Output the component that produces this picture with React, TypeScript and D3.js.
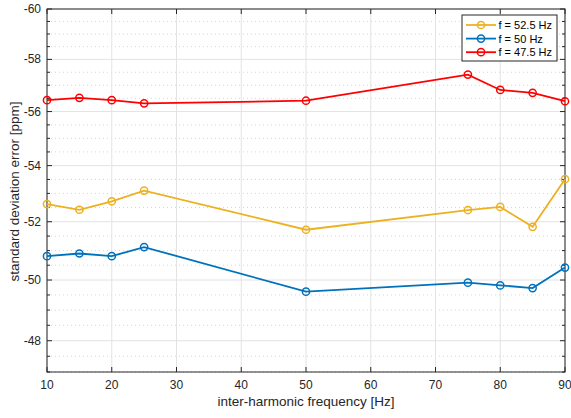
import React from 'react';
import * as d3 from 'd3';

const freqs = [10, 15, 20, 25, 50, 75, 80, 85, 90];
const s525 = [52.62, 52.42, 52.72, 53.1, 51.72, 52.41, 52.52, 51.82, 53.51];
const s50 = [50.81, 50.9, 50.81, 51.12, 49.61, 49.91, 49.82, 49.73, 50.42];
const s475 = [56.43, 56.52, 56.43, 56.31, 56.41, 57.41, 56.82, 56.71, 56.39];
const seriesNames = ['f = 52.5 Hz', 'f = 50 Hz', 'f = 47.5 Hz'];
const seriesColors = ['#EDB120', '#0072BD', '#FF0000'];
const xTicks = [10, 20, 30, 40, 50, 60, 70, 80, 90];
const yTicks = [60, 58, 56, 54, 52, 50, 48];

const W = 571;
const H = 418;
const font = 'Liberation Sans, Arial, Helvetica, sans-serif';

export default function App() {
  const x = d3.scaleLinear().domain([10, 90]).range([47, 565]);
  const y = d3.scaleLog().domain([47, 60]).range([372, 9]);
  const [x0, x1] = x.range();
  const [y0, y1] = y.range();

  const minor = d3.range(47, 60.01, 0.5).filter(v => !yTicks.includes(v));
  const series = [s525, s50, s475].map((values, i) => ({ name: seriesNames[i], color: seriesColors[i], values }));

  const line = d3.line<number>().x((_, i) => x(freqs[i])).y(v => y(v));

  return (
    <svg width={W} height={H} style={{ position: 'absolute', left: 0, top: 0, background: '#fff' }} fontFamily={font}>
      {/* grid */}
      {minor.map(v => (
        <line key={'mg' + v} x1={x0} x2={x1} y1={y(v)} y2={y(v)} stroke="#b8b8b8" strokeWidth={0.6} strokeDasharray="1,3" />
      ))}
      {xTicks.map(t => (
        <line key={'gx' + t} x1={x(t)} x2={x(t)} y1={y0} y2={y1} stroke="#e3e3e3" strokeWidth={1} />
      ))}
      {yTicks.map(t => (
        <line key={'gy' + t} x1={x0} x2={x1} y1={y(t)} y2={y(t)} stroke="#e3e3e3" strokeWidth={1} />
      ))}

      {/* box + ticks */}
      <rect x={x0} y={y1} width={x1 - x0} height={y0 - y1} fill="none" stroke="#262626" strokeWidth={1} />
      {xTicks.map(t => (
        <g key={'tx' + t}>
          <line x1={x(t)} x2={x(t)} y1={y0} y2={y0 - 5} stroke="#262626" />
          <line x1={x(t)} x2={x(t)} y1={y1} y2={y1 + 5} stroke="#262626" />
          <text x={x(t)} y={y0 + 17} textAnchor="middle" fontSize={12} fill="#262626">{t}</text>
        </g>
      ))}
      {yTicks.map(t => (
        <g key={'ty' + t}>
          <line x1={x0} x2={x0 + 5} y1={y(t)} y2={y(t)} stroke="#262626" />
          <line x1={x1} x2={x1 - 5} y1={y(t)} y2={y(t)} stroke="#262626" />
          <text x={x0 - 6} y={y(t) + 4} textAnchor="end" fontSize={12} fill="#262626">{'-' + t}</text>
        </g>
      ))}
      {minor.map(v => (
        <g key={'mt' + v}>
          <line x1={x0} x2={x0 + 3} y1={y(v)} y2={y(v)} stroke="#262626" />
          <line x1={x1} x2={x1 - 3} y1={y(v)} y2={y(v)} stroke="#262626" />
        </g>
      ))}

      {/* series */}
      {series.map(s => (
        <g key={s.name}>
          <path d={line(s.values) || ''} fill="none" stroke={s.color} strokeWidth={1.8} />
          {s.values.map((v, i) => (
            <circle key={i} cx={x(freqs[i])} cy={y(v)} r={3.6} fill="none" stroke={s.color} strokeWidth={1.5} />
          ))}
        </g>
      ))}

      {/* axis labels */}
      <text x={(x0 + x1) / 2} y={406} textAnchor="middle" fontSize={13.5} fill="#262626">inter-harmonic frequency [Hz]</text>
      <text transform={`translate(18.5,${(y0 + y1) / 2 + 1}) rotate(-90)`} textAnchor="middle" fontSize={13.5} fill="#262626">standard deviation error [ppm]</text>

      {/* legend */}
      <g>
        <rect x={462} y={15} width={95} height={46} fill="#fff" stroke="#262626" strokeWidth={1} />
        {series.map((s, i) => {
          const ly = 25 + i * 13.6;
          return (
            <g key={'lg' + s.name}>
              <line x1={466} x2={496} y1={ly} y2={ly} stroke={s.color} strokeWidth={1.8} />
              <circle cx={481} cy={ly} r={3.6} fill="none" stroke={s.color} strokeWidth={1.5} />
              <text x={498.5} y={ly + 4} fontSize={11} fill="#000">{s.name}</text>
            </g>
          );
        })}
      </g>
    </svg>
  );
}
